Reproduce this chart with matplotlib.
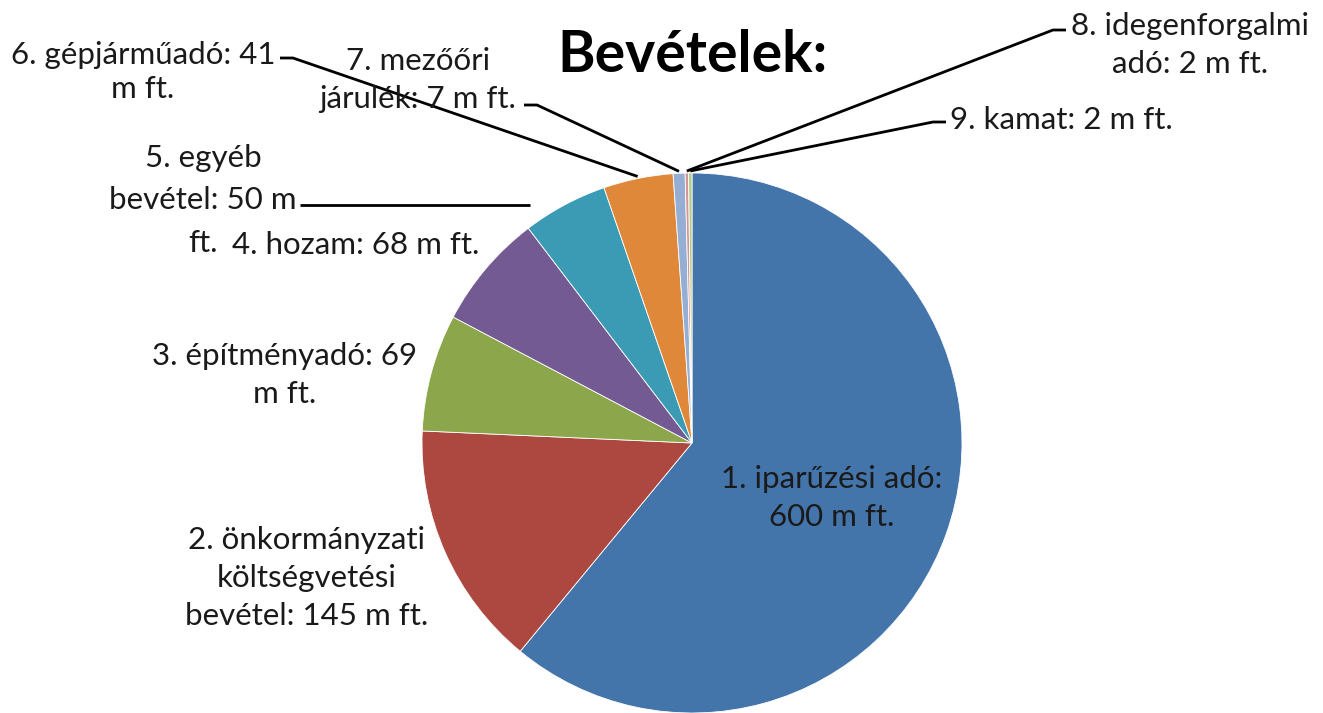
import numpy as np
import matplotlib
matplotlib.use("Agg")
import matplotlib.pyplot as plt

# ---- data ----
labels = [
    "1. iparűzési adó:\n600 m ft.",
    "2. önkormányzati\nköltségvetési\nbevétel: 145 m ft.",
    "3. építményadó: 69\nm ft.",
    "4. hozam: 68 m ft.",
    "5. egyéb\nbevétel: 50 m\nft.",
    "6. gépjárműadó: 41\nm ft.",
    "7. mezőőri\njárulék: 7 m ft.",
    "8. idegenforgalmi\nadó: 2 m ft.",
    "9. kamat: 2 m ft.",
]
values = [600, 145, 69, 68, 50, 41, 7, 2, 2]
title = "Bevételek:"

colors = ["#4374AA", "#AD4841", "#8CA64C", "#735A92", "#3B9AB4",
          "#E0883A", "#94AED4", "#D39595", "#B5CB88"]

W, H = 1323, 713
fig = plt.figure(figsize=(W / 100, H / 100), dpi=100)
ax = fig.add_axes([0, 0, 1, 1])

def Y(y):
    return H - y

cx, cy, R = 692, Y(443), 270
wedges, _ = ax.pie(values, colors=colors, startangle=90, counterclock=False,
                   center=(cx, cy), radius=R,
                   wedgeprops=dict(edgecolor="white", linewidth=0.6))
ax.set_xlim(0, W)
ax.set_ylim(0, H)
ax.set_aspect("equal")
ax.axis("off")

font = "Lato"
fs = 22.5
tc = "#1a1a1a"

def mid_point(w, r):
    a = np.deg2rad((w.theta1 + w.theta2) / 2)
    return cx + r * np.cos(a), cy + r * np.sin(a)

# label positions (image pixel coords: x, y of text center) and line spacing
pos = [(832, 498), (307, 578), (285, 375), (356, 245), (203, 200),
       (143, 72), (418, 80), (1190, 45), (1061, 120)]
lsp = [1.4, 1.45, 1.45, 1.0, 1.6, 1.3, 1.45, 1.45, 1.0]
for k, (lab, (x, y), ls) in enumerate(zip(labels, pos, lsp)):
    if k == 4:
        # draw line by line (label sits snugly beside label 4, as in the reference)
        lines = lab.split("\n")
        step = 42.5
        y0 = y - step * (len(lines) - 1) / 2
        for j, ln in enumerate(lines):
            ax.text(x, Y(y0 + j * step), ln, ha="center", va="center",
                    fontsize=fs, family=font, color=tc)
    else:
        ax.text(x, Y(y), lab, ha="center", va="center", fontsize=fs,
                family=font, color=tc, linespacing=ls)

# leader lines
lw = 2.0
# 5: horizontal
ax.plot([300, 530], [Y(205), Y(205)], color="black", lw=lw, solid_capstyle="butt")
# 6-9: short horizontal then diagonal to wedge
anchors = {5: [(280, 58), (293, 58)],
           6: [(524, 105), (537, 105)],
           7: [(1066, 30), (1053, 30)],
           8: [(946, 122), (933, 122)]}
for i, pts in anchors.items():
    ex, ey = mid_point(wedges[i], R + 2)
    xs = [p[0] for p in pts] + [ex]
    ys = [Y(p[1]) for p in pts] + [ey]
    ax.plot(xs, ys, color="black", lw=lw, solid_capstyle="butt")

ax.text(692, Y(55), title, ha="center", va="center", fontsize=41,
        fontweight="bold", family=font, color="black")

fig.savefig("out.png", dpi=100)
